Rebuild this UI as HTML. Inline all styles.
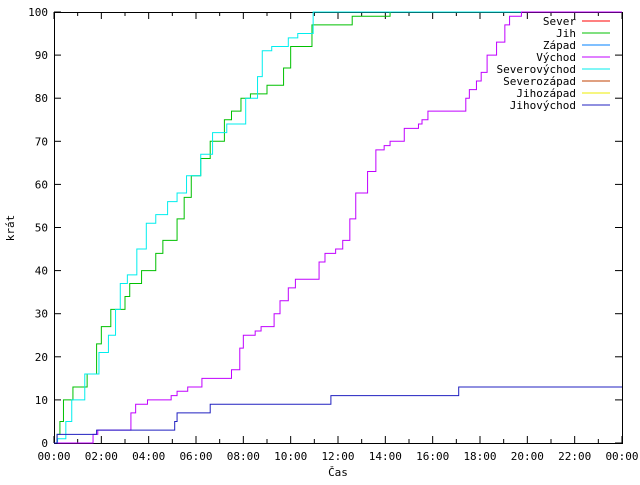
<!DOCTYPE html>
<html><head><meta charset="utf-8"><style>
body{margin:0;background:#fff}
svg text{font-family:"DejaVu Sans Mono","Liberation Mono",monospace;font-size:11px;fill:#000}
</style></head><body>
<svg id="chart" width="640" height="480" xmlns="http://www.w3.org/2000/svg">
<rect x="0" y="0" width="640" height="480" fill="#fff"/>
<g id="axes"></g>
<g id="series"></g>
<g id="legend"></g>
<text x="14" y="228" transform="rotate(-90 14 228)" text-anchor="middle">krát</text>
<text x="338" y="476" text-anchor="middle">Čas</text>
</svg>
<script>
const xTickLabels=["00:00","02:00","04:00","06:00","08:00","10:00","12:00","14:00","16:00","18:00","20:00","22:00","00:00"];
const yTicks=[0,10,20,30,40,50,60,70,80,90,100];
const seriesNames=["Sever","Jih","Západ","Východ","Severovýchod","Severozápad","Jihozápad","Jihovýchod"];
const seriesColors=["#ff0000","#00c000","#0080ff","#c000ff","#00eeee","#c04000","#eeee00","#2020c0"];
// step data: [hour, count]
const jihT=[0,0.13,0.25,0.4,0.8,1.4,1.8,2.0,2.4,3.0,3.2,3.7,4.3,4.6,5.2,5.5,5.8,6.2,6.6,7.2,7.5,7.9,8.3,9.0,9.7,10.0,10.9,12.6,14.2];
const jihV=[0,2,5,10,13,16,23,27,31,34,37,40,44,47,52,57,62,66,70,75,77,80,81,83,87,92,97,99,100];
const svT=[0,0.15,0.5,0.75,1.3,1.9,2.3,2.6,2.8,3.1,3.5,3.9,4.3,4.8,5.2,5.6,6.2,6.7,7.3,8.1,8.6,8.8,9.2,9.9,10.3,10.95];
const svV=[0,1,5,10,16,21,25,31,37,39,45,51,53,56,58,62,67,72,74,80,85,91,92,94,95,100];
const vyT=[0,1.65,1.85,3.25,3.45,3.95,4.95,5.2,5.65,6.25,7.5,7.85,8.0,8.5,8.75,9.3,9.55,9.9,10.2,11.2,11.45,11.9,12.2,12.5,12.75,13.25,13.6,13.95,14.2,14.8,15.4,15.55,15.8,16.0,17.4,17.55,17.85,18.05,18.3,18.7,19.05,19.25,19.75];
const vyV=[0,2,3,7,9,10,11,12,13,15,17,22,25,26,27,30,33,36,38,42,44,45,47,52,58,63,68,69,70,73,74,75,77,77,80,82,84,86,90,93,97,99,100];
const jvT=[0,0.13,1.8,5.1,5.2,6.6,11.7,17.1];
const jvV=[0,2,3,5,7,9,11,13];
const plotted=[[1,jihT,jihV],[4,svT,svV],[3,vyT,vyV],[7,jvT,jvV]];
const L=54,R=622,T=12,B=443;
const NS="http://www.w3.org/2000/svg";
function xs(h){return L+(R-L)*h/24;}
function ys(v){return B-(B-T)*v/100;}
function mk(tag,attrs,parent){const e=document.createElementNS(NS,tag);for(const k in attrs)e.setAttribute(k,attrs[k]);parent.appendChild(e);return e;}
const axes=document.getElementById('axes');
for(let h=0;h<=24;h++){
  const x=xs(h);
  const t1=mk('line',{x1:x,x2:x,y1:B,y2:B-(h%2?4:7),stroke:'#000'},axes);
  
  const t2=mk('line',{x1:x,x2:x,y1:T,y2:T+(h%2?4:7),stroke:'#000'},axes);
  
}
xTickLabels.forEach((s,i)=>{
  const t=mk('text',{x:xs(i*2),y:B+17,'text-anchor':'middle'},axes);t.textContent=s;
  
});
yTicks.forEach(v=>{
  const y=ys(v);
  const a=mk('line',{x1:L,x2:L+7,y1:y,y2:y,stroke:'#000'},axes);
  
  const b=mk('line',{x1:R,x2:R-7,y1:y,y2:y,stroke:'#000'},axes);
  
  const t=mk('text',{x:L-6,y:y+4,'text-anchor':'end'},axes);t.textContent=v;
  
});
const box=mk('rect',{x:L+.5,y:T+.5,width:R-L,height:B-T,fill:'none',stroke:'#000'},axes);

const sg=document.getElementById('series');
plotted.forEach(([ci,ts,vs])=>{
  let d='M'+xs(ts[0])+','+ys(vs[0]);
  for(let i=1;i<ts.length;i++){d+=' L'+xs(ts[i])+','+ys(vs[i-1])+' L'+xs(ts[i])+','+ys(vs[i]);}
  d+=' L'+xs(24)+','+ys(vs[vs.length-1]);
  const p=mk('path',{d:d,fill:'none',stroke:seriesColors[ci],'stroke-width':1},sg);
  
  
});
const lg=document.getElementById('legend');
seriesNames.forEach((n,i)=>{
  const y=21+i*12;
  const t=mk('text',{x:576,y:y+4,'text-anchor':'end'},lg);t.textContent=n;
  
  const l=mk('line',{x1:582,x2:610,y1:y,y2:y,stroke:seriesColors[i]},lg);
  
});
</script>
</body></html>
